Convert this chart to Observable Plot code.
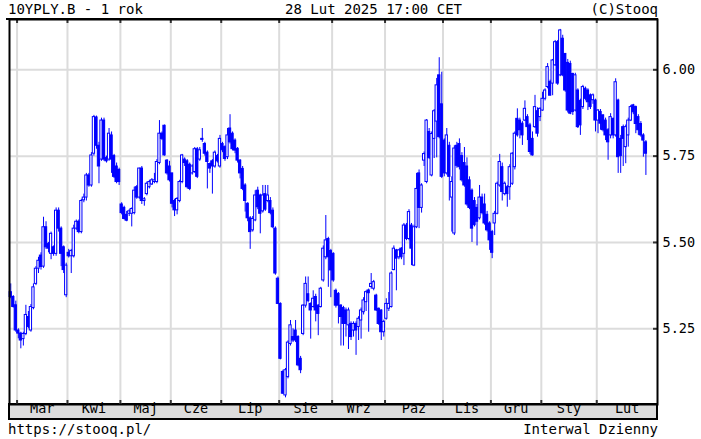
<!DOCTYPE html>
<html>
<head>
<meta charset="utf-8">
<script src="https://cdn.jsdelivr.net/npm/d3@7"></script>
<script src="https://cdn.jsdelivr.net/npm/@observablehq/plot@0.6"></script>
<style>
  html, body { margin: 0; padding: 0; background: #fff; }
  #wrap { position: relative; width: 701px; height: 439px; overflow: hidden; background: #fff; }
  .t { position: absolute; font-family: "DejaVu Sans Mono", monospace; font-size: 14px; line-height: 16px; white-space: pre; color: #000; }
  #chart { position: absolute; left: 0; top: 18px; }
</style>
</head>
<body>
<div id="wrap">
  <div class="t" style="left:8px;top:1px">10YPLY.B - 1 rok</div>
  <div class="t" style="left:285px;top:1px">28 Lut 2025 17:00 CET</div>
  <div class="t" style="right:43px;top:1px">(C)Stooq</div>
  <div style="position:absolute;left:6px;top:18px;width:652px;height:2px;background:#000"></div>
  <div style="position:absolute;left:8px;top:403px;width:650px;height:17px;box-sizing:border-box;border:2px solid #000;background:#dcdcdc"></div>
  <div id="chart"></div>
  <div class="t" style="left:8px;top:421px">https://stooq.pl/</div>
  <div class="t" style="right:43px;top:421px">Interwal Dzienny</div>
</div>
<script>
// Daily candles [open, high, low, close] for 10YPLY.B
const feb24 = [[5.356,5.38,5.337,5.342],[5.342,5.346,5.31,5.313],[5.318,5.33,5.24,5.245]];
const mar = [
 [5.245,5.25,5.221,5.236],[5.236,5.24,5.192,5.216],[5.22,5.24,5.20,5.235],[5.235,5.318,5.23,5.29],
 [5.284,5.30,5.25,5.255],[5.245,5.32,5.24,5.313],[5.31,5.38,5.305,5.37],[5.38,5.43,5.375,5.424],
 [5.424,5.457,5.41,5.447],[5.462,5.47,5.42,5.429],[5.43,5.573,5.425,5.544],[5.544,5.56,5.48,5.486],
 [5.496,5.50,5.47,5.482],[5.467,5.53,5.45,5.525],[5.486,5.49,5.46,5.467],[5.467,5.60,5.46,5.592],
 [5.592,5.60,5.53,5.54],[5.54,5.545,5.43,5.467],[5.486,5.49,5.41,5.42],[5.347,5.44,5.34,5.433]];
const apr = [
 [5.47,5.48,5.455,5.46],[5.46,5.48,5.41,5.475],[5.46,5.55,5.455,5.54],[5.54,5.565,5.535,5.56],
 [5.56,5.565,5.525,5.53],[5.53,5.625,5.525,5.62],[5.622,5.64,5.615,5.63],[5.63,5.70,5.62,5.694],
 [5.694,5.70,5.66,5.665],[5.665,5.76,5.66,5.752],[5.757,5.868,5.75,5.863],[5.862,5.866,5.77,5.78],
 [5.78,5.79,5.67,5.72],[5.74,5.86,5.735,5.853],[5.853,5.86,5.735,5.74],[5.745,5.75,5.73,5.735],
 [5.74,5.83,5.735,5.815],[5.81,5.82,5.70,5.74],[5.75,5.755,5.685,5.69],[5.72,5.73,5.67,5.675],
 [5.71,5.715,5.665,5.675]];
const may = [
 [5.61,5.615,5.58,5.585],[5.60,5.605,5.565,5.568],[5.58,5.59,5.56,5.563],[5.583,5.595,5.575,5.59],
 [5.583,5.60,5.545,5.597],[5.585,5.66,5.58,5.65],[5.66,5.665,5.625,5.63],[5.63,5.715,5.625,5.714],
 [5.714,5.72,5.61,5.62],[5.62,5.63,5.605,5.625],[5.64,5.675,5.635,5.67],[5.66,5.68,5.655,5.675],
 [5.668,5.685,5.665,5.68],[5.675,5.70,5.67,5.68],[5.675,5.74,5.67,5.733],[5.73,5.853,5.725,5.815],
 [5.815,5.82,5.795,5.80],[5.838,5.84,5.75,5.752],[5.737,5.74,5.695,5.70],[5.72,5.735,5.675,5.68]];
const jun = [
 [5.70,5.70,5.60,5.612],[5.62,5.625,5.575,5.593],[5.593,5.63,5.58,5.626],[5.62,5.68,5.615,5.675],
 [5.675,5.755,5.67,5.752],[5.74,5.745,5.72,5.73],[5.735,5.74,5.655,5.66],[5.725,5.73,5.65,5.655],
 [5.70,5.725,5.695,5.72],[5.704,5.775,5.70,5.77],[5.77,5.775,5.685,5.69],[5.74,5.775,5.735,5.767],
 [5.797,5.83,5.79,5.80],[5.785,5.79,5.75,5.757],[5.76,5.765,5.655,5.733],[5.727,5.73,5.70,5.714],
 [5.735,5.74,5.64,5.72],[5.72,5.765,5.715,5.76],[5.75,5.755,5.73,5.735],[5.72,5.81,5.715,5.80]];
const jul = [
 [5.785,5.79,5.76,5.767],[5.776,5.78,5.735,5.742],[5.747,5.83,5.74,5.81],[5.83,5.87,5.785,5.79],
 [5.815,5.82,5.765,5.77],[5.795,5.80,5.757,5.766],[5.771,5.775,5.73,5.737],[5.737,5.74,5.684,5.70],
 [5.713,5.72,5.65,5.655],[5.665,5.67,5.588,5.62],[5.612,5.615,5.56,5.57],[5.57,5.575,5.48,5.53],
 [5.535,5.575,5.53,5.568],[5.564,5.65,5.56,5.636],[5.65,5.66,5.595,5.602],[5.636,5.64,5.525,5.583],
 [5.59,5.665,5.585,5.636],[5.64,5.665,5.59,5.595],[5.62,5.665,5.615,5.636],[5.62,5.63,5.58,5.585],
 [5.592,5.60,5.54,5.544],[5.54,5.545,5.405,5.41],[5.395,5.40,5.32,5.322]];
const aug = [
 [5.322,5.325,5.16,5.163],[5.125,5.13,5.06,5.062],[5.057,5.135,5.05,5.13],[5.11,5.215,5.105,5.21],
 [5.206,5.274,5.20,5.26],[5.226,5.25,5.21,5.216],[5.245,5.274,5.21,5.216],[5.226,5.23,5.14,5.144],
 [5.163,5.17,5.12,5.13],[5.235,5.32,5.23,5.317],[5.317,5.40,5.31,5.38],[5.35,5.40,5.325,5.33],
 [5.322,5.325,5.22,5.303],[5.313,5.36,5.31,5.337],[5.342,5.35,5.27,5.303],[5.317,5.32,5.23,5.293],
 [5.313,5.37,5.31,5.366],[5.39,5.49,5.385,5.482],[5.457,5.578,5.45,5.506],[5.51,5.515,5.37,5.457],
 [5.475,5.48,5.34,5.419]];
const sep = [
 [5.467,5.47,5.385,5.39],[5.36,5.365,5.31,5.317],[5.351,5.355,5.264,5.317],[5.317,5.32,5.20,5.284],
 [5.31,5.315,5.20,5.264],[5.303,5.31,5.226,5.264],[5.26,5.31,5.19,5.303],[5.264,5.27,5.216,5.226],
 [5.245,5.27,5.226,5.264],[5.264,5.27,5.173,5.245],[5.255,5.285,5.216,5.279],[5.274,5.31,5.22,5.303],
 [5.298,5.34,5.29,5.332],[5.327,5.36,5.30,5.356],[5.361,5.365,5.24,5.353],[5.371,5.41,5.365,5.38],
 [5.366,5.39,5.36,5.385],[5.346,5.35,5.30,5.303],[5.308,5.31,5.26,5.264],[5.303,5.305,5.216,5.24],
 [5.24,5.275,5.226,5.27]];
const oct = [
 [5.279,5.337,5.275,5.322],[5.308,5.355,5.30,5.322],[5.313,5.415,5.31,5.41],[5.42,5.49,5.418,5.482],
 [5.477,5.48,5.36,5.453],[5.457,5.48,5.45,5.477],[5.482,5.485,5.45,5.457],[5.467,5.555,5.433,5.549],
 [5.549,5.555,5.505,5.51],[5.51,5.595,5.505,5.588],[5.549,5.555,5.433,5.482],[5.433,5.55,5.43,5.544],
 [5.544,5.70,5.54,5.655],[5.70,5.71,5.54,5.60],[5.60,5.67,5.585,5.665],[5.737,5.762,5.72,5.756],
 [5.675,5.856,5.67,5.853],[5.82,5.83,5.74,5.745],[5.694,5.82,5.69,5.814],[5.80,5.885,5.743,5.88],
 [5.85,5.975,5.745,5.955],[5.984,6.035,5.80,5.805],[5.90,5.993,5.685,5.69]];
const nov = [
 [5.795,5.80,5.69,5.70],[5.70,5.83,5.695,5.81],[5.78,5.79,5.62,5.69],[5.63,5.69,5.53,5.675],
 [5.526,5.78,5.52,5.772],[5.78,5.79,5.715,5.722],[5.785,5.80,5.71,5.718],[5.75,5.76,5.675,5.68],
 [5.73,5.775,5.66,5.665],[5.72,5.745,5.605,5.61],[5.68,5.69,5.595,5.60],[5.65,5.655,5.50,5.54],
 [5.62,5.63,5.545,5.55],[5.60,5.61,5.49,5.56],[5.57,5.665,5.565,5.63],[5.63,5.64,5.58,5.585],
 [5.61,5.64,5.55,5.555],[5.58,5.59,5.53,5.535],[5.555,5.56,5.477,5.506]];
const dec = [
 [5.53,5.535,5.453,5.47],[5.555,5.59,5.52,5.583],[5.583,5.675,5.58,5.67],[5.665,5.755,5.66,5.733],
 [5.718,5.73,5.62,5.646],[5.64,5.675,5.635,5.67],[5.66,5.665,5.602,5.64],[5.66,5.725,5.622,5.718],
 [5.67,5.76,5.665,5.757],[5.718,5.82,5.71,5.815],[5.858,5.887,5.805,5.81],[5.853,5.86,5.80,5.825],
 [5.844,5.85,5.781,5.81],[5.853,5.91,5.85,5.887],[5.863,5.87,5.795,5.834],[5.839,5.845,5.755,5.762],
 [5.80,5.82,5.75,5.752],[5.834,5.926,5.83,5.892],[5.88,5.89,5.805,5.815],[5.863,5.89,5.85,5.887]];
const jan = [
 [5.882,5.935,5.88,5.916],[5.916,5.945,5.91,5.94],[5.95,6.018,5.945,6.008],[5.965,5.97,5.925,5.925],
 [5.96,6.03,5.925,6.027],[6.013,6.085,6.01,6.08],[6.08,6.085,5.955,5.96],[5.984,6.117,5.98,6.114],
 [6.09,6.10,5.98,5.984],[6.046,6.046,5.935,5.94],[6.02,6.03,5.875,5.882],[6.017,6.025,5.87,5.873],
 [5.988,5.99,5.868,5.878],[5.882,5.99,5.878,5.984],[5.94,5.945,5.83,5.834],[5.91,5.915,5.81,5.839],
 [5.892,5.955,5.885,5.95],[5.945,5.95,5.91,5.916],[5.94,5.945,5.882,5.906],[5.926,5.93,5.885,5.892],
 [5.912,5.93,5.90,5.926],[5.911,5.915,5.82,5.853]];
const feb = [
 [5.853,5.885,5.815,5.882],[5.878,5.885,5.825,5.844],[5.868,5.87,5.82,5.825],[5.853,5.86,5.795,5.81],
 [5.825,5.83,5.738,5.79],[5.81,5.873,5.80,5.863],[5.858,5.86,5.80,5.81],[5.81,5.974,5.805,5.964],
 [5.911,5.915,5.70,5.747],[5.80,5.81,5.70,5.75],[5.834,5.84,5.72,5.80],[5.776,5.84,5.728,5.834],
 [5.81,5.86,5.776,5.853],[5.853,5.897,5.85,5.892],[5.897,5.90,5.87,5.877],[5.892,5.895,5.815,5.843],
 [5.863,5.87,5.81,5.825],[5.843,5.85,5.805,5.81],[5.81,5.815,5.747,5.795],[5.79,5.795,5.694,5.757]];

const monthLabels = ["Mar","Kwi","Maj","Cze","Lip","Sie","Wrz","Paz","Lis","Gru","Sty","Lut"];
const monthCandles = [mar, apr, may, jun, jul, aug, sep, oct, nov, dec, jan, feb];
const yTicks = [5.25, 5.50, 5.75, 6.00];

const rows = [];
[feb24, ...monthCandles].forEach(m => m.forEach(([o, h, l, c]) =>
  rows.push({i: rows.length, open: o, high: h, low: l, close: c})));
const starts = [];
let n = feb24.length;
monthCandles.forEach(m => { starts.push(n); n += m.length; });
const xMax = n + 4.1;
const centers = starts.map((s, k) => (s + (k + 1 < starts.length ? starts[k + 1] : xMax)) / 2);

const blue = "#0000ff";
const chart = Plot.plot({
  width: 701,
  height: 403,
  marginLeft: 9,
  marginRight: 44,
  marginTop: 1,
  marginBottom: 17,
  x: {type: "linear", domain: [0, xMax], axis: null},
  y: {domain: [5.0307, 6.1457], axis: null},
  style: {background: "transparent", fontFamily: "'DejaVu Sans Mono', monospace", fontSize: "13.5px", color: "#000", overflow: "visible"},
  marks: [
    Plot.ruleY(yTicks, {stroke: "#dcdcdc", strokeWidth: 2}),
    Plot.ruleX(starts, {stroke: "#dcdcdc", strokeWidth: 2}),
    Plot.ruleX(rows, {x: d => d.i + 0.5, y1: "low", y2: "high", stroke: blue, strokeWidth: 1}),
    Plot.rect(rows, {x1: d => d.i + 0.05, x2: d => d.i + 0.95, y1: "open", y2: "close",
      fill: d => d.close >= d.open ? "white" : blue, stroke: blue, strokeWidth: 1}),
    Plot.tickY(yTicks, {y: d => d, insetLeft: 644, stroke: "#333", strokeWidth: 2}),
    Plot.tickX(starts, {x: d => d, insetTop: 381, stroke: "#333", strokeWidth: 2}),
    Plot.tickX(starts, {x: d => d, insetBottom: 381, stroke: "#333", strokeWidth: 2}),
    Plot.frame({stroke: "#000", strokeWidth: 2}),
    Plot.axisY(yTicks, {anchor: "right", tickSize: 0, tickPadding: 5, tickFormat: d => d.toFixed(2), label: null}),
    Plot.text(monthLabels, {x: (d, k) => centers[k], text: d => d, frameAnchor: "bottom", dy: 8, fill: "#000"})
  ]
});
document.getElementById("chart").appendChild(chart);
</script>
</body>
</html>
